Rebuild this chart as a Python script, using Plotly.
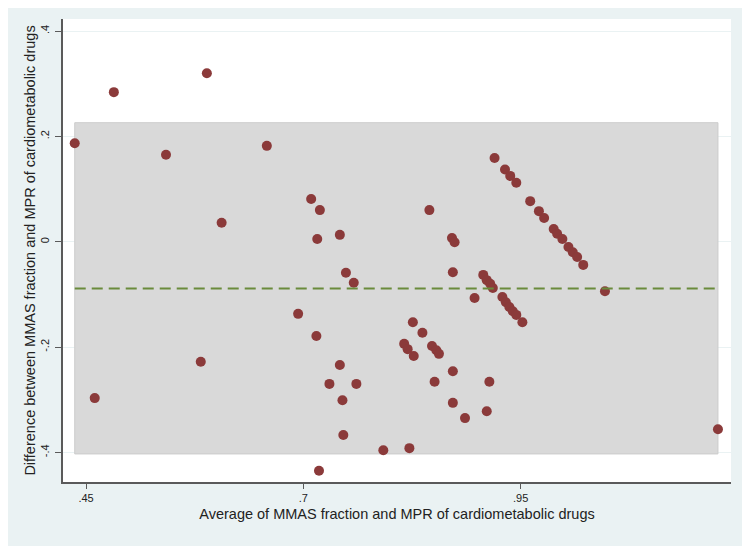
import plotly.graph_objects as go

# Bland-Altman data
avg_vals = [0.437, 0.482, 0.589, 0.542, 0.658, 0.606, 0.460, 0.582, 0.709, 0.719,
            0.716, 0.742, 0.749, 0.758, 0.694, 0.715, 0.742, 0.730, 0.761, 0.745,
            0.746, 0.718, 0.792, 0.822, 0.845, 0.871, 0.874, 0.872, 0.826, 0.837,
            0.816, 0.820, 0.827, 0.848, 0.853, 0.856, 0.872, 0.851, 0.914, 0.872,
            0.886, 0.911, 0.897, 0.907, 0.911, 0.915, 0.918, 0.929, 0.933, 0.937,
            0.941, 0.945, 0.952, 0.920, 0.932, 0.938, 0.945, 0.961, 0.971, 0.977,
            0.988, 0.992, 0.998, 1.005, 1.010, 1.015, 1.022, 1.047, 1.177]
diff_vals = [0.187, 0.284, 0.320, 0.165, 0.182, 0.036, -0.297, -0.228, 0.081, 0.060,
             0.005, 0.013, -0.059, -0.078, -0.137, -0.179, -0.234, -0.270, -0.270, -0.301,
             -0.367, -0.435, -0.396, -0.392, 0.060, 0.007, -0.001, -0.058, -0.153, -0.173,
             -0.194, -0.204, -0.217, -0.198, -0.206, -0.213, -0.246, -0.266, -0.266, -0.306,
             -0.335, -0.322, -0.107, -0.063, -0.073, -0.080, -0.088, -0.105, -0.115, -0.124,
             -0.132, -0.139, -0.153, 0.159, 0.137, 0.125, 0.112, 0.077, 0.058, 0.045,
             0.024, 0.015, 0.005, -0.010, -0.020, -0.029, -0.044, -0.094, -0.356]

mean_diff = -0.089
upper_loa = 0.226
lower_loa = -0.403

x_tickvals = [0.45, 0.7, 0.95]
x_ticktext = [".45", ".7", ".95"]
y_tickvals = [0.4, 0.2, 0, -0.2, -0.4]
y_ticktext = [".4", ".2", "0", "-.2", "-.4"]

x_lo, x_hi = min(avg_vals), max(avg_vals)

fig = go.Figure()

# shaded limits of agreement
fig.add_shape(type="rect", x0=x_lo, x1=x_hi, y0=lower_loa, y1=upper_loa,
              fillcolor="#d9d9d9", line=dict(color="#cccccc", width=1), layer="between")

fig.add_trace(go.Scatter(x=avg_vals, y=diff_vals, mode="markers",
                         marker=dict(color="#8b3a3a", size=10, line=dict(width=0)),
                         showlegend=False))

fig.add_trace(go.Scatter(x=[x_lo, x_hi], y=[mean_diff, mean_diff], mode="lines",
                         line=dict(color="#6a8b3c", width=2, dash="11px,6px"),
                         showlegend=False))

axis_font = dict(family="Liberation Sans, Arial", size=11, color="#222222")
# page body adds an 8px offset, so margins are shifted to compensate
fig.update_layout(
    width=750, height=546,
    margin=dict(l=55, r=27, t=11, b=72),
    paper_bgcolor="#eaf2f3",
    plot_bgcolor="white",
    font=dict(family="Liberation Sans, Arial", color="#222222"),
    xaxis=dict(range=[0.4235, 1.192], tickvals=x_tickvals, ticktext=x_ticktext,
               automargin=False,
               showgrid=False, zeroline=False, showline=True, linecolor="#5a5a5a",
               linewidth=2, ticks="outside", ticklen=5, tickcolor="#5a5a5a",
               tickfont=axis_font,
               title=dict(text="Average of MMAS fraction and MPR of cardiometabolic drugs",
                          font=dict(size=14.5), standoff=6)),
    yaxis=dict(range=[-0.4563, 0.4229], tickvals=y_tickvals, ticktext=y_ticktext,
               automargin=False, tickangle=-90, showgrid=True, gridcolor="#eaf2f3", gridwidth=1,
               zeroline=False, showline=True, linecolor="#5a5a5a", linewidth=2,
               ticks="outside", ticklen=6, tickcolor="#5a5a5a", tickfont=axis_font,
               ticklabelstandoff=2,
               title=dict(text="Difference between MMAS fraction and MPR of cardiometabolic drugs",
                          font=dict(size=14.5), standoff=0)),
)

fig.write_html("out.html")
